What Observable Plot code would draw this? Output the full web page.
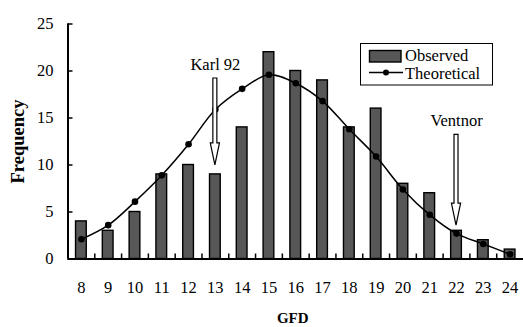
<!DOCTYPE html>
<html>
<head>
<meta charset="utf-8">
<script src="https://cdn.jsdelivr.net/npm/d3@7"></script>
<script src="https://cdn.jsdelivr.net/npm/@observablehq/plot@0.6"></script>
<style>
  html, body { margin: 0; padding: 0; background: #fff; }
  #chart { width: 523px; height: 327px; }
</style>
</head>
<body>
<div id="chart"></div>
<script>
// ---- data ----
const gfd = [8, 9, 10, 11, 12, 13, 14, 15, 16, 17, 18, 19, 20, 21, 22, 23, 24];
const observed = [4, 3, 5, 9, 10, 9, 14, 22, 20, 19, 14, 16, 8, 7, 3, 2, 1];
const theoretical = [2.1, 3.6, 6.1, 8.9, 12.2, 15.9, 18.1, 19.6, 18.7, 16.8, 13.8, 10.9, 7.4, 4.7, 2.7, 1.6, 0.5];
const yTicks = [0, 5, 10, 15, 20, 25];
const xBoundaries = [8.5, 9.5, 10.5, 11.5, 12.5, 13.5, 14.5, 15.5, 16.5, 17.5, 18.5, 19.5, 20.5, 21.5, 22.5, 23.5];
const arrowLabels = ["Karl 92", "Ventnor"];
const arrowGfd = [13, 22];
const arrowTop = [19.2, 13.2];
const arrowTip = [9.95, 3.55];
const seriesNames = ["Observed", "Theoretical"];
const xLabel = "GFD";
const yLabel = "Frequency";

const data = gfd.map((g, i) => ({gfd: g, observed: observed[i], theoretical: theoretical[i]}));
const arrows = arrowLabels.map((l, i) => ({label: l, gfd: arrowGfd[i], top: arrowTop[i], tip: arrowTip[i]}));

const W = 523, H = 327;
const mL = 67.5, mR = 0, mT = 23.5, mB = 68.5;
const barFill = "#575757";
const font = "'Liberation Serif', 'Times New Roman', serif";

function arrowRender(index, scales, values) {
  const g = d3.create("svg:g");
  const sw = 2, hw = 4.6, hl = 22;
  for (const i of index) {
    const x = values.x1[i], y1 = values.y1[i], y2 = values.y2[i];
    const yh = y2 - hl;
    g.append("path")
      .attr("d", `M${x - sw},${y1}L${x + sw},${y1}L${x + sw},${yh}L${x + hw},${yh}L${x},${y2}L${x - hw},${yh}L${x - sw},${yh}Z`)
      .attr("fill", "white")
      .attr("stroke", "black")
      .attr("stroke-width", 1.2);
  }
  return g.node();
}

const plot = Plot.plot({
  width: W, height: H,
  marginLeft: mL, marginRight: mR, marginTop: mT, marginBottom: mB,
  style: {fontFamily: font, fontSize: "16.5px", color: "black", background: "white", overflow: "visible"},
  x: {type: "linear", domain: [7.5, 24.5], axis: null},
  y: {domain: [0, 25], axis: null},
  marks: [
    Plot.rect(data, {x1: d => d.gfd - 0.2, x2: d => d.gfd + 0.2, y1: () => 0, y2: "observed", fill: barFill, stroke: "black", strokeWidth: 1.4}),
    Plot.line(data, {x: "gfd", y: "theoretical", stroke: "black", strokeWidth: 1.5, curve: "catmull-rom"}),
    Plot.dot(data, {x: "gfd", y: "theoretical", r: 3.3, fill: "black"}),
    Plot.link(arrows, {x: "gfd", y1: "top", y2: "tip", render: arrowRender}),
    Plot.text(arrows, {x: "gfd", y: "top", text: "label", dy: -14, lineAnchor: "middle", fontSize: 16.5}),
    Plot.tickX(xBoundaries, {x: d => d, insetTop: (H - mT - mB) - 5, strokeWidth: 1.5}),
    Plot.tickY(yTicks, {y: d => d, insetRight: (W - mL - mR) - 5, strokeWidth: 1.5}),
    Plot.ruleY([0], {stroke: "black", strokeWidth: 2}),
    Plot.ruleX([7.5], {y1: 0, y2: 25, stroke: "black", strokeWidth: 2}),
    Plot.axisX({ticks: gfd, tickSize: 0, tickPadding: 22.5, fontSize: 16.5, tickFormat: d => String(d), label: null}),
    Plot.axisY({ticks: yTicks, tickSize: 0, tickPadding: 14.5, fontSize: 16.5, tickFormat: d => String(d), label: null}),
    Plot.text([xLabel], {frameAnchor: "bottom", dy: 59.5, dx: -3, textAnchor: "middle", lineAnchor: "middle", fontWeight: "bold", fontSize: 15}),
    Plot.text([yLabel], {frameAnchor: "left", dx: -49.5, rotate: -90, textAnchor: "middle", lineAnchor: "middle", fontWeight: "bold", fontSize: 18.5})
  ]
});

// legend (inside the plot area)
const svg = d3.select(plot);
const lg = svg.append("g").attr("font-family", font).attr("font-size", 16.5).attr("text-anchor", "start");
lg.append("rect").attr("x", 360.5).attr("y", 43.5).attr("width", 132).attr("height", 41.5)
  .attr("fill", "white").attr("stroke", "black").attr("stroke-width", 1);
lg.append("rect").attr("x", 369.5).attr("y", 50.5).attr("width", 31.5).attr("height", 11.5)
  .attr("fill", barFill).attr("stroke", "black").attr("stroke-width", 1.4);
lg.append("text").attr("x", 405).attr("y", 60.5).attr("text-anchor", "start").text(seriesNames[0]);
lg.append("line").attr("x1", 369).attr("x2", 403).attr("y1", 72.5).attr("y2", 72.5)
  .attr("stroke", "black").attr("stroke-width", 1.5);
lg.append("circle").attr("cx", 386).attr("cy", 72.5).attr("r", 3).attr("fill", "black");
lg.append("text").attr("x", 405).attr("y", 78.8).attr("text-anchor", "start").text(seriesNames[1]);

document.getElementById("chart").appendChild(plot);
</script>
</body>
</html>
